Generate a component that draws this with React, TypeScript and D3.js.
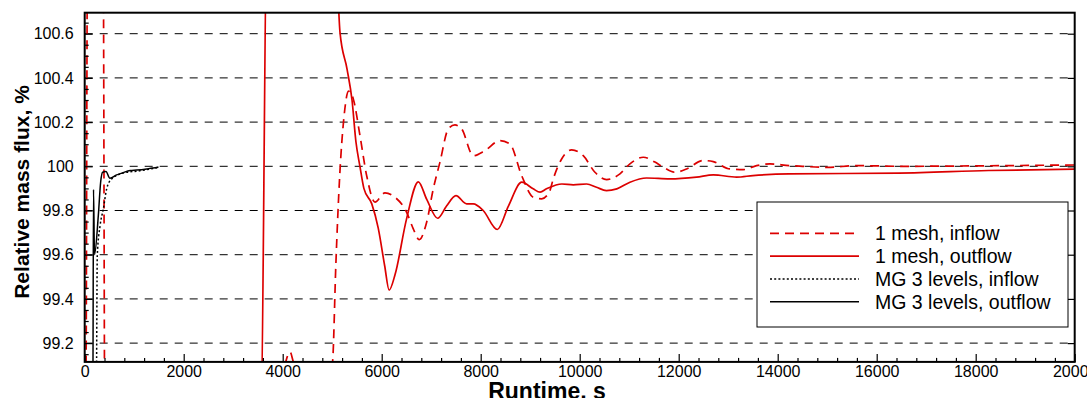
import React, { useEffect, useRef } from 'react';
import * as d3 from 'd3';

const WIDTH = 1087;
const HEIGHT = 398;

// runtime, s
const meshInflowX = [0, 25, 55, 375, 405, 3950, 4068, 4147, 4208, 4350, 4900, 5010, 5073, 5150, 5241, 5330, 5426, 5561, 5696, 5864, 6066, 6268, 6504, 6638, 6759, 6908, 7042, 7177, 7345, 7480, 7615, 7850, 8086, 8389, 8591, 8827, 9062, 9231, 9385, 9466, 9635, 9837, 10072, 10308, 10544, 10813, 11015, 11284, 11520, 11688, 11924, 12160, 12496, 12698, 13035, 13304, 13574, 13843, 14233, 14500, 15000, 15600, 16500, 18000, 20000];
// relative mass flux, %
const meshInflowY = [98.9, 99.0, 100.9, 100.9, 98.9, 98.95, 99.12, 99.16, 99.12, 98.95, 98.95, 99.12, 99.55, 99.95, 100.23, 100.34, 100.305, 100.139, 99.958, 99.838, 99.88, 99.86, 99.792, 99.717, 99.668, 99.747, 99.898, 100.019, 100.169, 100.187, 100.169, 100.048, 100.071, 100.116, 100.101, 99.958, 99.86, 99.853, 99.883, 99.943, 100.033, 100.074, 100.048, 99.973, 99.94, 99.966, 100.011, 100.041, 100.019, 99.996, 99.973, 99.988, 100.026, 100.021, 99.988, 99.985, 100.003, 100.011, 100.003, 100.0, 99.995, 100.003, 100.0, 100.002, 100.006];

const meshOutflowX = [0, 3560, 3680, 5060, 5157, 5300, 5400, 5480, 5560, 5640, 5800, 5930, 6060, 6150, 6270, 6500, 6740, 6910, 7130, 7310, 7500, 7716, 7850, 8050, 8335, 8560, 8830, 9060, 9200, 9330, 9640, 9870, 10140, 10340, 10540, 10750, 11015, 11350, 11820, 12360, 12700, 13170, 13500, 14230, 16450, 18260, 20000];
const meshOutflowY = [98.6, 98.85, 101.0, 101.0, 100.607, 100.44, 100.3, 100.11, 100.0, 99.9, 99.83, 99.72, 99.55, 99.44, 99.51, 99.76, 99.93, 99.85, 99.765, 99.82, 99.867, 99.83, 99.83, 99.8, 99.714, 99.82, 99.928, 99.898, 99.883, 99.898, 99.92, 99.916, 99.92, 99.905, 99.89, 99.898, 99.928, 99.947, 99.943, 99.951, 99.961, 99.951, 99.958, 99.966, 99.969, 99.981, 99.987];

const mgInflowX = [0, 235, 254, 311, 376, 444, 545, 848, 1050, 1252, 1490];
const mgInflowY = [98.9, 99.0, 99.596, 99.732, 99.807, 99.898, 99.943, 99.973, 99.978, 99.985, 99.995];

const mgOutflowX = [0, 165, 178, 198, 275, 322, 362, 430, 510, 645, 760, 919, 1050, 1255, 1380, 1490];
const mgOutflowY = [98.9, 99.0, 99.895, 99.6, 99.777, 99.928, 99.973, 99.976, 99.946, 99.961, 99.97, 99.981, 99.983, 99.988, 99.992, 99.997];

const xTicks = [0, 2000, 4000, 6000, 8000, 10000, 12000, 14000, 16000, 18000, 20000];
const yTicks = [99.2, 99.4, 99.6, 99.8, 100, 100.2, 100.4, 100.6];
const yTickLabels = ['99.2', '99.4', '99.6', '99.8', '100', '100.2', '100.4', '100.6'];

const legendLabels = ['1 mesh, inflow', '1 mesh, outflow', 'MG 3 levels, inflow', 'MG 3 levels, outflow'];

const RED = '#dc0000';
const FONT = '"Liberation Sans", Arial, Helvetica, sans-serif';

const seriesStyles = [
  { color: RED, dash: '9,6', width: 1.7 },
  { color: RED, dash: null, width: 1.7 },
  { color: '#000', dash: '2,2.2', width: 1.5 },
  { color: '#000', dash: null, width: 1.5 },
];

const App = () => {
  const svgRef = useRef<SVGSVGElement>(null);

  useEffect(() => {
    const svg = d3.select(svgRef.current);
    svg.selectAll('*').remove();

    const left = 84.7, right = 1074.7, top = 12.7, bottom = 361.9;
    const x = d3.scaleLinear().domain([0, 20000]).range([left, right]);
    const y = d3.scaleLinear().domain([99.115, 100.695]).range([bottom, top]);

    svg.append('defs').append('clipPath').attr('id', 'plot-clip')
      .append('rect')
      .attr('x', left).attr('y', top)
      .attr('width', right - left).attr('height', bottom - top);

    // dashed horizontal grid
    svg.append('g').selectAll('line')
      .data(yTicks)
      .enter().append('line')
      .attr('x1', left).attr('x2', right)
      .attr('y1', d => y(d)).attr('y2', d => y(d))
      .attr('stroke', '#000')
      .attr('stroke-width', 1)
      .attr('stroke-dasharray', '8,7');

    // curves
    const series = [
      { xs: meshInflowX, ys: meshInflowY },
      { xs: meshOutflowX, ys: meshOutflowY },
      { xs: mgInflowX, ys: mgInflowY },
      { xs: mgOutflowX, ys: mgOutflowY },
    ];
    const line = d3.line<[number, number]>()
      .x(d => x(d[0]))
      .y(d => y(d[1]))
      .curve(d3.curveMonotoneX);

    const lines = svg.append('g').attr('clip-path', 'url(#plot-clip)');
    series.forEach((s, i) => {
      const pts = s.xs.map((v, j) => [v, s.ys[j]] as [number, number]);
      const st = seriesStyles[i];
      lines.append('path')
        .attr('d', line(pts))
        .attr('fill', 'none')
        .attr('stroke', st.color)
        .attr('stroke-width', st.width)
        .attr('stroke-dasharray', st.dash);
    });

    // bottom axis, ticks pointing inward
    const xMinor = d3.range(0, 20001, 400).filter(v => v % 2000 !== 0);
    const gx = svg.append('g').attr('transform', 'translate(0,' + bottom + ')');
    gx.call(d3.axisBottom(x).tickValues(xTicks).tickSizeInner(-8).tickSizeOuter(0).tickPadding(4)
      .tickFormat(d => String(d)));
    svg.append('g').attr('transform', 'translate(0,' + bottom + ')')
      .call(d3.axisBottom(x).tickValues(xMinor).tickSizeInner(-4).tickSizeOuter(0).tickFormat(() => ''));

    // left axis
    const yMinor = d3.range(99.15, 100.7, 0.05).filter(v => Math.abs(Math.round(v * 5) - v * 5) > 0.01);
    const gy = svg.append('g').attr('transform', 'translate(' + left + ',0)');
    gy.call(d3.axisLeft(y).tickValues(yTicks).tickSizeInner(-8).tickSizeOuter(0).tickPadding(11)
      .tickFormat((d, i) => yTickLabels[i]));
    svg.append('g').attr('transform', 'translate(' + left + ',0)')
      .call(d3.axisLeft(y).tickValues(yMinor).tickSizeInner(-4).tickSizeOuter(0).tickFormat(() => ''));

    // right axis, major ticks only
    svg.append('g').attr('transform', 'translate(' + right + ',0)')
      .call(d3.axisRight(y).tickValues(yTicks).tickSizeInner(-7).tickSizeOuter(0).tickFormat(() => ''));

    svg.selectAll('.domain').remove();
    svg.selectAll('.tick line').attr('stroke', '#000').attr('stroke-width', 1.2);
    svg.selectAll('.tick text')
      .attr('font-family', FONT)
      .attr('font-size', 16)
      .attr('fill', '#000');

    // frame
    svg.append('rect')
      .attr('x', left).attr('y', top)
      .attr('width', right - left).attr('height', bottom - top)
      .attr('fill', 'none')
      .attr('stroke', '#000')
      .attr('stroke-width', 2);

    // legend
    const lg = svg.append('g');
    lg.append('rect')
      .attr('x', 757).attr('y', 202)
      .attr('width', 311).attr('height', 125)
      .attr('fill', '#fff')
      .attr('stroke', '#000')
      .attr('stroke-width', 1);
    legendLabels.forEach((label, i) => {
      const ry = 233.3 + i * 22.8;
      const st = seriesStyles[i];
      lg.append('line')
        .attr('x1', 770).attr('x2', 859)
        .attr('y1', ry).attr('y2', ry)
        .attr('stroke', st.color)
        .attr('stroke-width', st.width)
        .attr('stroke-dasharray', st.dash);
      lg.append('text')
        .attr('x', 875).attr('y', ry + 6.8)
        .attr('font-family', FONT)
        .attr('font-size', 19.5)
        .attr('fill', '#000')
        .text(label);
    });

    // axis titles
    svg.append('text')
      .attr('x', 547).attr('y', 399)
      .attr('text-anchor', 'middle')
      .attr('font-family', FONT)
      .attr('font-size', 23)
      .attr('font-weight', 'bold')
      .text('Runtime, s');
    svg.append('text')
      .attr('transform', 'translate(29,192) rotate(-90)')
      .attr('text-anchor', 'middle')
      .attr('font-family', FONT)
      .attr('font-size', 21)
      .attr('font-weight', 'bold')
      .text('Relative mass flux, %');
  }, []);

  return (
    <div style={{ position: 'absolute', left: 0, top: 0 }}>
      <svg ref={svgRef} width={WIDTH} height={HEIGHT} style={{ display: 'block', background: '#fff' }}></svg>
    </div>
  );
};

export default App;
